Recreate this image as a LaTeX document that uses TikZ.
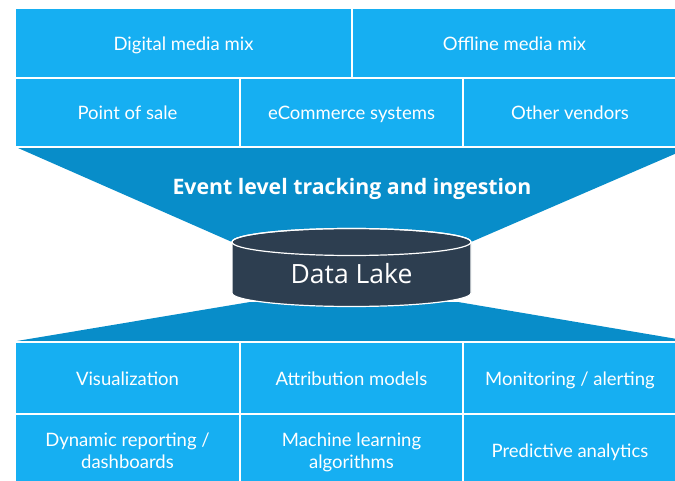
\documentclass[tikz,border=0pt]{standalone}
\usepackage{fontspec}
\setmainfont{Lato}
\newfontfamily\opensans{Open Sans}
\definecolor{boxblue}{HTML}{16AFF2}
\definecolor{funnelblue}{HTML}{088DC9}
\definecolor{lakefill}{HTML}{2D3E50}
\begin{document}
\begin{tikzpicture}[x=1pt,y=1pt,
  box/.style={fill=boxblue, draw=white, line width=2pt, text=white,
    font=\fontsize{18.5}{22.5}\selectfont, align=center, inner sep=0pt,
    text height=19pt, text depth=4pt},
  twoline/.style={text height=41.5pt, text depth=4pt},
  funnel/.style={fill=funnelblue, draw=none},
  cyl/.style={fill=lakefill, draw=white, line width=1.2pt}]
\useasboundingbox (0,0) rectangle (675,480);
% funnels
\path[funnel] (18,332) -- (677,332) -- (677,327) -- (471,238) -- (232,238) -- cycle;
\path[funnel] (17,139) -- (250,178) -- (458,178) -- (677,141) -- (677,139) -- cycle;
% top rows
\node[box, minimum width=337pt, minimum height=70pt] (dmm) at (183.5,437) {Digital media mix};
\node[box, minimum width=325pt, minimum height=70pt] (omm) at (514.5,437) {Offline media mix};
\node[box, minimum width=225pt, minimum height=69pt] (pos) at (127.5,367.5) {Point of sale};
\node[box, minimum width=223pt, minimum height=69pt] (ecs) at (351.5,367.5) {eCommerce systems};
\node[box, minimum width=214pt, minimum height=69pt] (ov) at (570,367.5) {Other vendors};
% title
\node[text=white, font=\opensans\bfseries\fontsize{21.3}{25}\selectfont] (title) at (352,291) {Event level tracking and ingestion};
% cylinder
\path[cyl] (232,238) -- (232,187) arc[start angle=180, end angle=360, x radius=119.5pt, y radius=13.5pt]
  -- (471,238) arc[start angle=0, end angle=180, x radius=119.5pt, y radius=13.5pt] -- cycle;
\draw[white, line width=1.2pt] (351.5,238) ellipse[x radius=119.5pt, y radius=13.5pt];
\node[text=white, font=\opensans\fontsize{26.5}{30}\selectfont] (lake) at (351.5,206) {Data Lake};
% bottom rows
\node[box, minimum width=225pt, minimum height=72pt] (vis) at (127.5,102) {Visualization};
\node[box, minimum width=223pt, minimum height=72pt] (att) at (351.5,102) {Attribution models};
\node[box, minimum width=214pt, minimum height=72pt] (mon) at (570,102) {Monitoring / alerting};
\node[box, twoline, minimum width=225pt, minimum height=72pt] (dyn) at (127.5,30) {Dynamic reporting /\\dashboards};
\node[box, twoline, minimum width=223pt, minimum height=72pt] (ml) at (351.5,30) {Machine learning\\algorithms};
\node[box, minimum width=214pt, minimum height=72pt] (pred) at (570,30) {Predictive analytics};
\end{tikzpicture}
\end{document}
